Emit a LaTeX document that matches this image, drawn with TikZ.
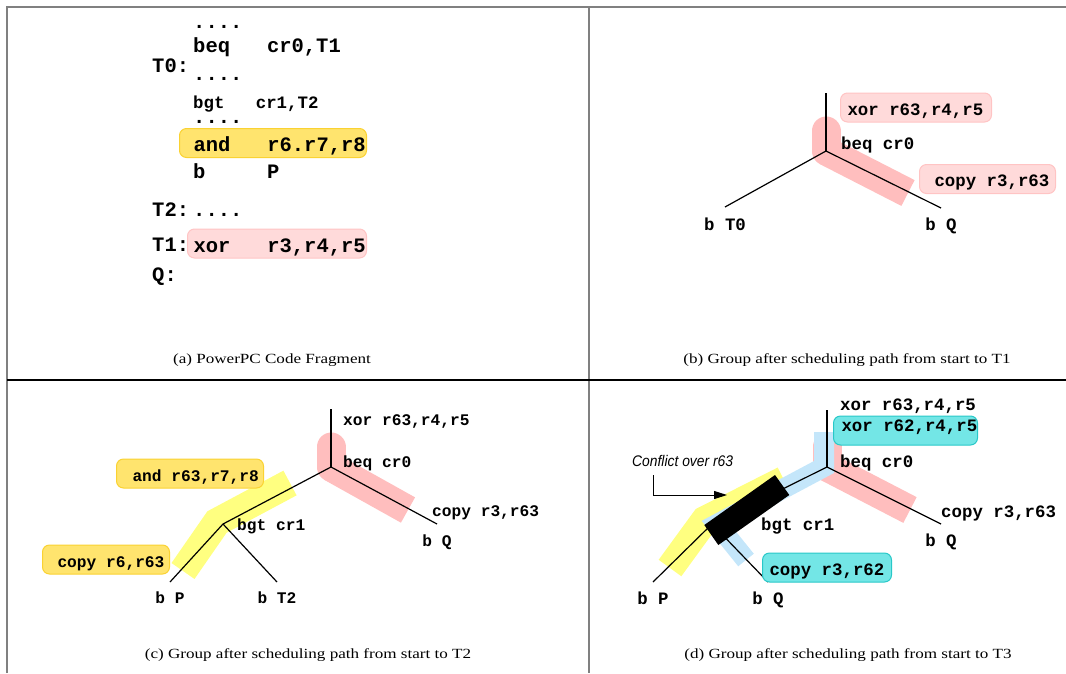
\documentclass[tikz,border=0pt]{standalone}
\usepackage{fontspec}
\usetikzlibrary{arrows.meta}
\setmainfont{Liberation Serif}
\newfontfamily\codefamily{Liberation Mono}
\newfontfamily\capfamily[FakeStretch=1.22]{Liberation Serif}
\newfontfamily\notefamily[FakeStretch=0.9]{Liberation Sans}
\newcommand{\codefontA}{\codefamily\bfseries\fontsize{20.5}{24}\selectfont\spaceskip=0pt\xspaceskip=0pt}
\newcommand{\codefontB}{\codefamily\bfseries\fontsize{17.4}{21}\selectfont\spaceskip=0pt\xspaceskip=0pt}
\newcommand{\codefontC}{\codefamily\bfseries\fontsize{16.2}{19}\selectfont\spaceskip=0pt\xspaceskip=0pt}
\newcommand{\capfont}{\capfamily\fontsize{14}{16}\selectfont}
\newcommand{\notefont}{\notefamily\itshape\fontsize{15.4}{18}\selectfont}
\definecolor{cFrame}{RGB}{128,128,128}
\definecolor{cPinkBand}{RGB}{255,190,190}
\definecolor{cPinkFill}{RGB}{255,218,218}
\definecolor{cPinkLine}{RGB}{255,196,196}
\definecolor{cYelBand}{RGB}{255,255,128}
\definecolor{cYelFill}{RGB}{255,228,110}
\definecolor{cYelLine}{RGB}{250,210,50}
\definecolor{cBlueBand}{RGB}{196,230,250}
\definecolor{cTealFill}{RGB}{115,230,230}
\definecolor{cTealLine}{RGB}{40,200,200}
\begin{document}
\begin{tikzpicture}[x=1pt, y=-1pt,
    edge/.style={line width=1.2pt},
    code/.style={inner sep=0pt, anchor=base west},
    leaflabel/.style={inner sep=0pt, anchor=base},
    bandpink/.style={draw=cPinkBand, line width=29pt},
    bandyel/.style={draw=cYelBand, line width=28pt, line join=miter},
    bandblue/.style={draw=cBlueBand, line width=20pt, line join=miter},
    hlbox/.style={rounded corners=7pt, line width=1pt, anchor=west, align=left,
      inner sep=0pt, minimum height=29pt, text height=15pt, text depth=0pt},
    pinkbox/.style={hlbox, fill=cPinkFill, draw=cPinkLine},
    yelbox/.style={hlbox, fill=cYelFill, draw=cYelLine},
    tealbox/.style={hlbox, fill=cTealFill, draw=cTealLine},
    caption/.style={font=\capfont},
    framerule/.style={draw=cFrame, line width=2pt}]
  \useasboundingbox (0,0) rectangle (1066,673);

  % Frame
  \draw[framerule] (7,673) -- (7,7) -- (1066,7);
  \draw[framerule] (589,7) -- (589,673);
  \draw[line width=1.5pt] (7,380) -- (1066,380);

  % (a) code fragment
  \node[yelbox, text width=187pt, text height=17pt] (aAnd) at (179,143)
    {\codefontA\hspace*{14pt}and~~~r6.r7,r8};
  \node[pinkbox, text width=179pt, text height=17pt] (aXor) at (187,243.5)
    {\codefontA\hspace*{6pt}xor~~~r3,r4,r5};
  \node[code, font=\codefontA] (aDotsA) at (193,28) {....};
  \node[code, font=\codefontA] (aBeq) at (193,52) {beq~~~cr0,T1};
  \node[code, font=\codefontA] (aT0) at (152,72.7) {T0:};
  \node[code, font=\codefontA] (aDotsB) at (193,80) {....};
  \node[code, font=\codefontB] (aBgt) at (193,108) {bgt~~~cr1,T2};
  \node[code, font=\codefontA] (aDotsC) at (193,123) {....};
  \node[code, font=\codefontA] (aBP) at (193,178) {b~~~~~P};
  \node[code, font=\codefontA] (aT2) at (152,216.7) {T2:};
  \node[code, font=\codefontA] (aDotsD) at (193,216.7) {....};
  \node[code, font=\codefontA] (aT1) at (152,251.7) {T1:};
  \node[code, font=\codefontA] (aQ) at (152,281) {Q:};
  \node[caption] (capA) at (272,360) {(a) PowerPC Code Fragment};

  % (b) group after T1
  \coordinate (bTop) at (826,93);
  \coordinate (bRoot) at (826,151);
  \coordinate (bLeft) at (725,207);
  \coordinate (bRight) at (941,208);
  \draw[bandpink, line cap=round] (826,131) -- (bRoot);
  \draw[bandpink] (bRoot) -- (908,193);
  \foreach \a/\b in {bTop/bRoot, bRoot/bLeft, bRoot/bRight}
    \draw[edge] (\a) -- (\b);
  \node[pinkbox, text width=151pt] (bXor) at (840,107.5)
    {\codefontB\hspace*{7pt}xor~r63,r4,r5};
  \node[pinkbox, text width=136pt] (bCopy) at (919,179)
    {\codefontB\hspace*{15pt}copy~r3,r63};
  \node[code, font=\codefontB] (bBeq) at (841,149) {beq~cr0};
  \node[leaflabel, font=\codefontB] (bLblT0) at (725,230) {b~T0};
  \node[leaflabel, font=\codefontB] (bLblQ) at (941,230) {b~Q};
  \node[caption] (capB) at (847,360) {(b) Group after scheduling path from start to T1};

  % (c) group after T2
  \coordinate (cTop) at (331,409);
  \coordinate (cRoot) at (331,467);
  \coordinate (cRight) at (437,524);
  \coordinate (cBgt) at (223,524);
  \coordinate (cLeafP) at (170,582);
  \coordinate (cLeafT2) at (277,582);
  \draw[bandpink, line cap=round] (331,447) -- (cRoot);
  \draw[bandpink] (cRoot) -- (408,510);
  \draw[bandyel] (290,483) -- (217,522) -- (183,571);
  \foreach \a/\b in {cTop/cRoot, cRoot/cRight, cRoot/cBgt, cBgt/cLeafP, cBgt/cLeafT2}
    \draw[edge] (\a) -- (\b);
  \node[yelbox, text width=147pt] (cAnd) at (116,473.5)
    {\codefontC\hspace*{16pt}and~r63,r7,r8};
  \node[yelbox, text width=127pt] (cCopy) at (42,559.5)
    {\codefontC\hspace*{15pt}copy~r6,r63};
  \node[code, font=\codefontC] (cXor) at (343,425) {xor~r63,r4,r5};
  \node[code, font=\codefontC] (cBeq) at (343,467.3) {beq~cr0};
  \node[code, font=\codefontC] (cCopyR) at (432,516.7) {copy~r3,r63};
  \node[code, font=\codefontC] (cBgtLbl) at (237,530.7) {bgt~cr1};
  \node[leaflabel, font=\codefontC] (cLblQ) at (437,546.7) {b~Q};
  \node[leaflabel, font=\codefontC] (cLblP) at (170,603.3) {b~P};
  \node[leaflabel, font=\codefontC] (cLblT2) at (277,603.3) {b~T2};
  \node[caption] (capC) at (308,655) {(c) Group after scheduling path from start to T2};

  % (d) group after T3
  \coordinate (dTop) at (827,410);
  \coordinate (dRoot) at (827,467);
  \coordinate (dRight) at (941,524);
  \coordinate (dBgt) at (712,524);
  \coordinate (dLeafP) at (653,582);
  \coordinate (dLeafQ) at (768,582);
  \draw[bandpink, line cap=round] (827,447) -- (dRoot);
  \draw[bandpink] (dRoot) -- (910,510);
  \draw[bandyel] (784,480) -- (705,520) -- (670,568);
  \draw[bandblue] (824,432) -- (824,467) -- (717,524) -- (746,560);
  \foreach \a/\b in {dTop/dRoot, dRoot/dRight, dRoot/dBgt, dBgt/dLeafP, dBgt/dLeafQ}
    \draw[edge] (\a) -- (\b);
  % conflict marker
  \fill (704.3,525) -- (718.3,545) -- (789.3,495) -- (775,475) -- cycle;
  \node[tealbox, text width=144pt, text height=2pt] (dXor) at (833,430.5)
    {\codefontB\hspace*{8pt}xor~r62,r4,r5};
  \node[tealbox, text width=129pt] (dCopy) at (762,567.5)
    {\codefontB\hspace*{7pt}copy~r3,r62};
  \node[code, font=\codefontB] (dXorOld) at (840,410) {xor~r63,r4,r5};
  \node[code, font=\codefontB] (dBeq) at (840,467.3) {beq~cr0};
  \node[code, font=\codefontB] (dCopyR) at (941,517.3) {copy~r3,r63};
  \node[code, font=\codefontB] (dBgtLbl) at (761,530.7) {bgt~cr1};
  \node[leaflabel, font=\codefontB] (dLblQR) at (941,546.7) {b~Q};
  \node[leaflabel, font=\codefontB] (dLblP) at (653,604) {b~P};
  \node[leaflabel, font=\codefontB] (dLblQ) at (768,604) {b~Q};
  \node[code, font=\notefont] (dNote) at (632,466) {Conflict over r63};
  \coordinate (dNoteTip) at (727,495);
  \draw[line width=1pt, -{Triangle[length=13pt,width=8pt]}]
    ([xshift=21pt, yshift=-9pt]dNote.south west) |- (dNoteTip);
  \node[caption] (capD) at (848,655) {(d) Group after scheduling path from start to T3};
\end{tikzpicture}
\end{document}
